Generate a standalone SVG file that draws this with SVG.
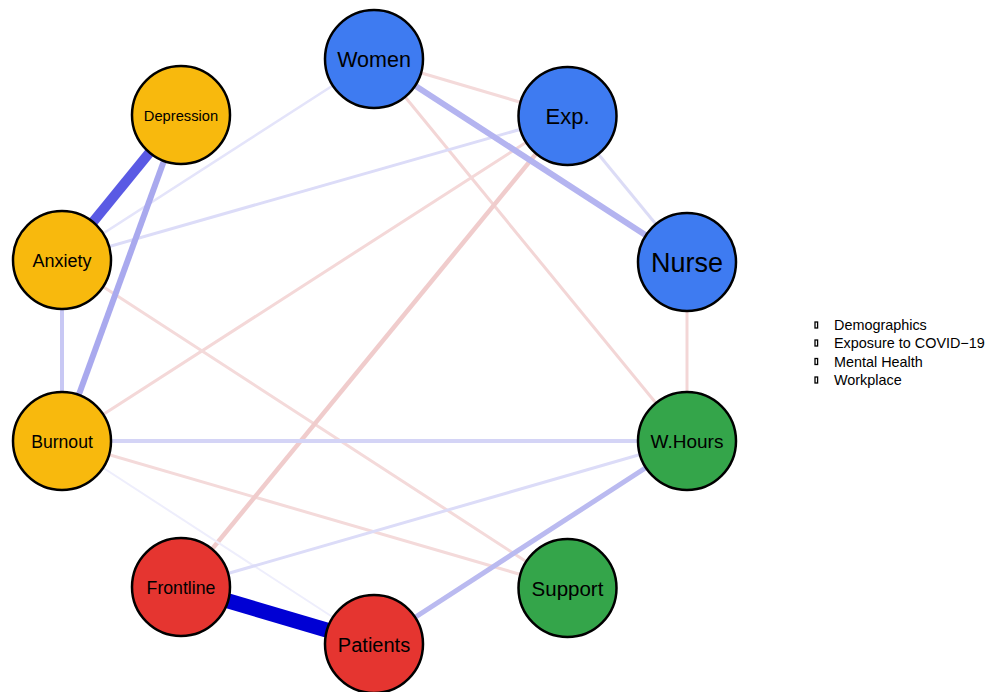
<svg xmlns="http://www.w3.org/2000/svg" width="987" height="692" viewBox="0 0 987 692">
<style>
.n circle{stroke:#000;stroke-width:2.5}
.n text{font-family:"Liberation Sans",Arial,sans-serif;text-anchor:middle;fill:#000}
.demo circle{fill:#3E7BF1}
.mh circle{fill:#F8B90D}
.wp circle{fill:#34A54A}
.cov circle{fill:#E53530}
#edges line{stroke-linecap:butt}
.leg text{font-family:"Liberation Sans",Arial,sans-serif;font-size:14.4px;fill:#000}
.leg rect{fill:#fff;stroke:#000;stroke-width:1.3}
</style>
<rect width="987" height="692" fill="#fff"/>
<g id="edges">
<line x1="374" y1="59" x2="567" y2="116" stroke="#F4DADA" stroke-width="3"/>
<line x1="374" y1="59" x2="687" y2="441" stroke="#F3D6D6" stroke-width="3"/>
<line x1="687" y1="262" x2="687" y2="441" stroke="#F3D6D6" stroke-width="3"/>
<line x1="567" y1="116" x2="62" y2="441" stroke="#F4D8D8" stroke-width="3"/>
<line x1="62" y1="260" x2="567" y2="588" stroke="#F4DADA" stroke-width="3"/>
<line x1="62" y1="441" x2="567" y2="588" stroke="#F4DADA" stroke-width="3"/>
<line x1="567" y1="116" x2="181" y2="587" stroke="#F0CCCC" stroke-width="4.5"/>
<line x1="62" y1="441" x2="374" y2="644" stroke="#EEEEFC" stroke-width="2"/>
<line x1="374" y1="59" x2="62" y2="260" stroke="#E4E4FA" stroke-width="2.5"/>
<line x1="567" y1="116" x2="62" y2="260" stroke="#DCDCF8" stroke-width="3"/>
<line x1="567" y1="116" x2="687" y2="262" stroke="#DCDCF6" stroke-width="3"/>
<line x1="181" y1="587" x2="687" y2="441" stroke="#DCDCF8" stroke-width="3"/>
<line x1="62" y1="441" x2="687" y2="441" stroke="#D4D4F6" stroke-width="4"/>
<line x1="62" y1="260" x2="62" y2="441" stroke="#C8C8F4" stroke-width="4"/>
<line x1="374" y1="644" x2="687" y2="441" stroke="#BABAF0" stroke-width="5"/>
<line x1="374" y1="59" x2="687" y2="262" stroke="#B4B4F0" stroke-width="6"/>
<line x1="181" y1="114" x2="62" y2="441" stroke="#A9A9EE" stroke-width="6"/>
<line x1="181" y1="114" x2="62" y2="260" stroke="#5A5AE4" stroke-width="10"/>
<line x1="181" y1="587" x2="374" y2="644" stroke="#0000D4" stroke-width="15"/>
</g>
<g id="women" class="n demo"><circle cx="374" cy="59" r="49"/><text x="374" y="67" font-size="21.5">Women</text></g>
<g id="exp" class="n demo"><circle cx="567.5" cy="116" r="49"/><text x="567.5" y="124" font-size="22">Exp.</text></g>
<g id="nurse" class="n demo"><circle cx="687" cy="262" r="49"/><text x="687" y="271.5" font-size="27">Nurse</text></g>
<g id="whours" class="n wp"><circle cx="687" cy="441" r="49"/><text x="687" y="448" font-size="19">W.Hours</text></g>
<g id="support" class="n wp"><circle cx="567.5" cy="588" r="49"/><text x="567.5" y="595.5" font-size="20.5">Support</text></g>
<g id="patients" class="n cov"><circle cx="374" cy="644" r="49"/><text x="374" y="651.5" font-size="20">Patients</text></g>
<g id="frontline" class="n cov"><circle cx="181" cy="587" r="49"/><text x="181" y="593.5" font-size="17.7">Frontline</text></g>
<g id="burnout" class="n mh"><circle cx="62" cy="441" r="49"/><text x="62" y="447.5" font-size="17.6">Burnout</text></g>
<g id="anxiety" class="n mh"><circle cx="62" cy="260" r="49"/><text x="62" y="266.5" font-size="18">Anxiety</text></g>
<g id="depression" class="n mh"><circle cx="181" cy="115" r="49"/><text x="181" y="120.5" font-size="14.7">Depression</text></g>
<g id="legend" class="leg">
<rect x="815" y="322" width="2.6" height="6"/><text x="834" y="330">Demographics</text>
<rect x="815" y="340" width="2.6" height="6"/><text x="834" y="348">Exposure to COVID−19</text>
<rect x="815" y="358.5" width="2.6" height="6"/><text x="834" y="366.5">Mental Health</text>
<rect x="815" y="377" width="2.6" height="6"/><text x="834" y="385">Workplace</text>
</g>
</svg>
